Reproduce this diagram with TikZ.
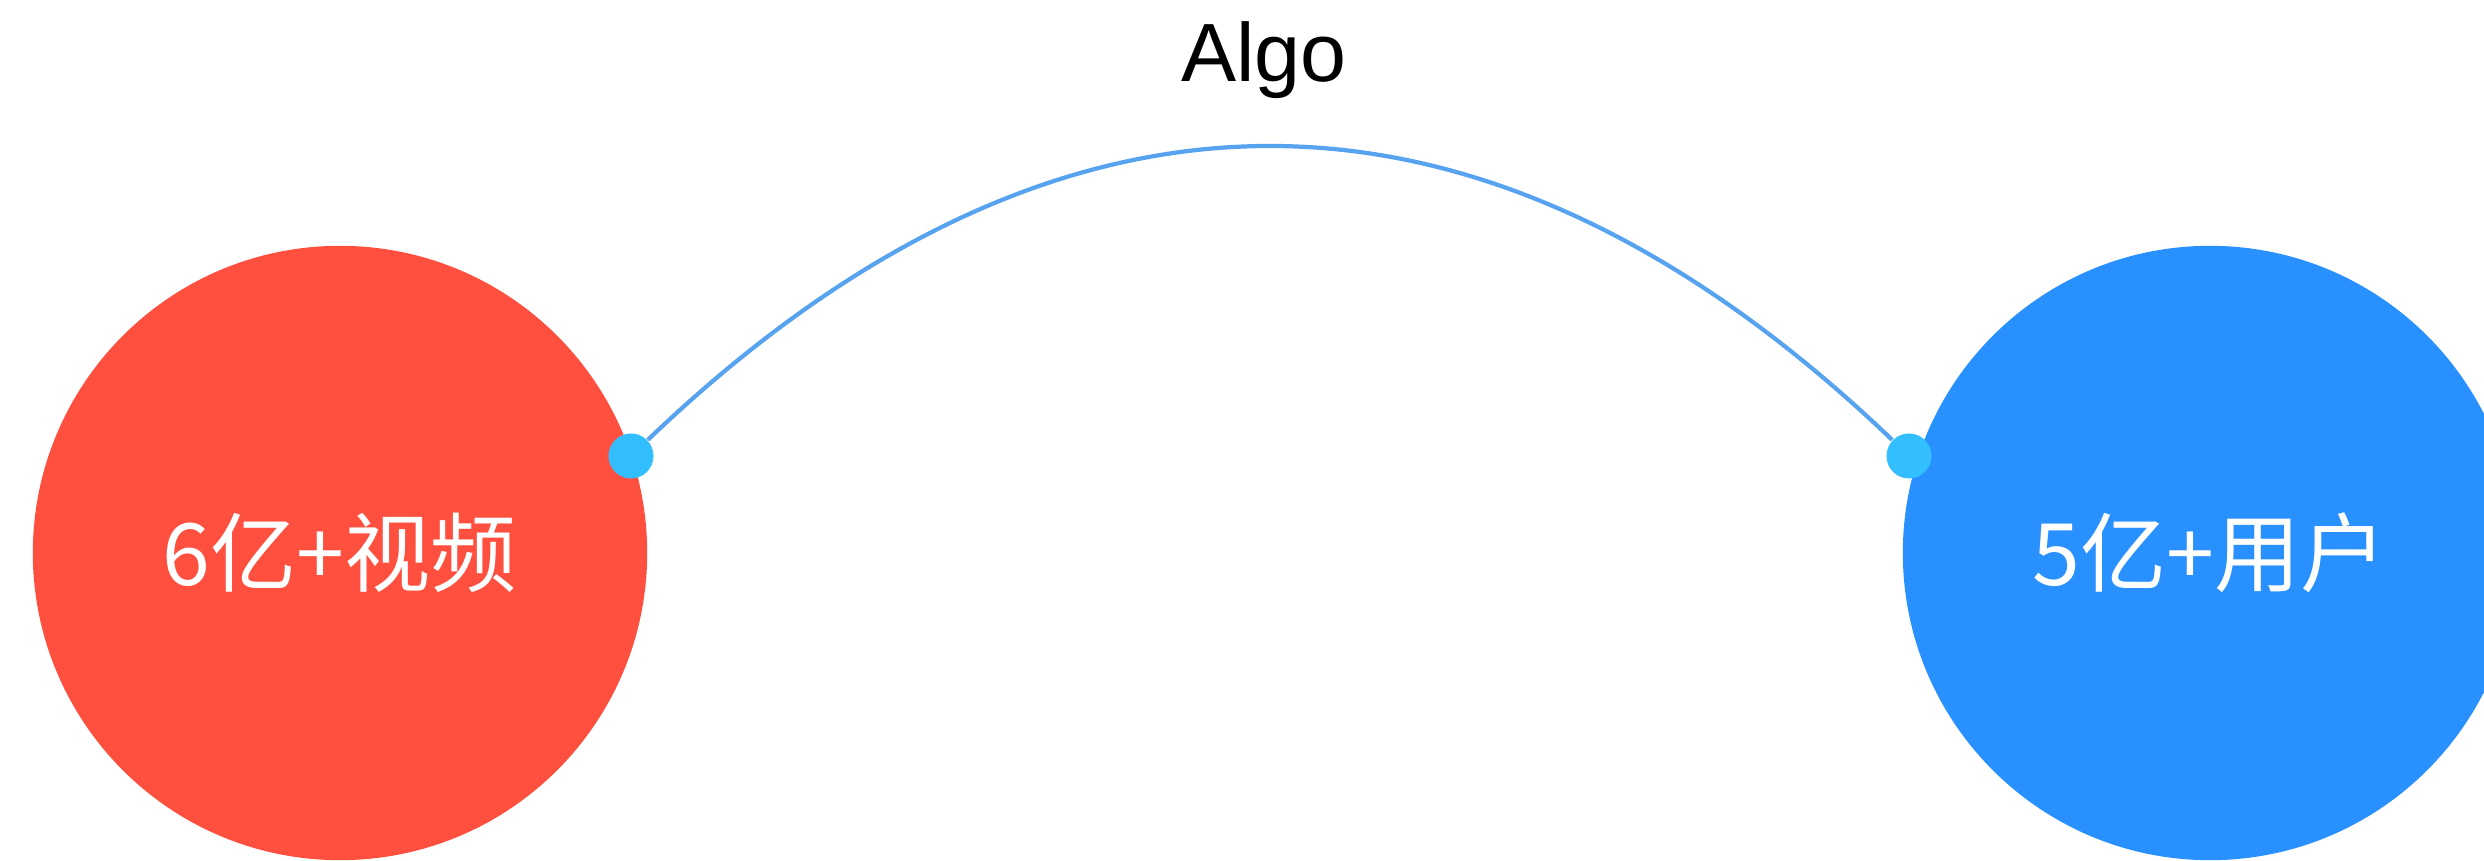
\documentclass[tikz,border=0pt]{standalone}
\usepackage{fontspec}
\usepackage{tikz}
\usetikzlibrary{positioning}
\newfontfamily\cjk{Noto Sans CJK SC}
\newfontfamily\latin{Liberation Sans}
\definecolor{videored}{RGB}{255, 79, 62}
\definecolor{userblue}{RGB}{41, 144, 255}
\definecolor{dotblue}{RGB}{51, 190, 255}
\definecolor{linkblue}{RGB}{87, 163, 240}

\begin{document}
\begin{tikzpicture}[x=0.01cm, y=0.01cm]
            \useasboundingbox (0, 0) rectangle (2484, 860);
            \clip (0, 0) rectangle (2484, 860);

            \node[circle, fill=videored, inner sep=0pt, minimum size=6.14cm, text=white, font=\cjk\fontsize{24.5}{29}\selectfont] (videos) at (340, 307) {6亿+视频};
            \node[circle, fill=userblue, inner sep=0pt, minimum size=6.14cm, text=white, font=\cjk\fontsize{24.5}{29}\selectfont] (users) at (2210, 307) {5亿+用户};

            \node[circle, fill=dotblue, inner sep=0pt, minimum size=0.45cm] (vdot) at (631, 404) {};
            \node[circle, fill=dotblue, inner sep=0pt, minimum size=0.45cm] (udot) at (1909, 404) {};

            \node[anchor=base, font=\latin\fontsize{23.5}{28}\selectfont] (algo) at (1264, 778) {Algo};

            \draw[linkblue, line width=1.2pt] (vdot) .. controls +(426, 408) and +(-426, 408) .. (udot);
        \end{tikzpicture}
\end{document}
